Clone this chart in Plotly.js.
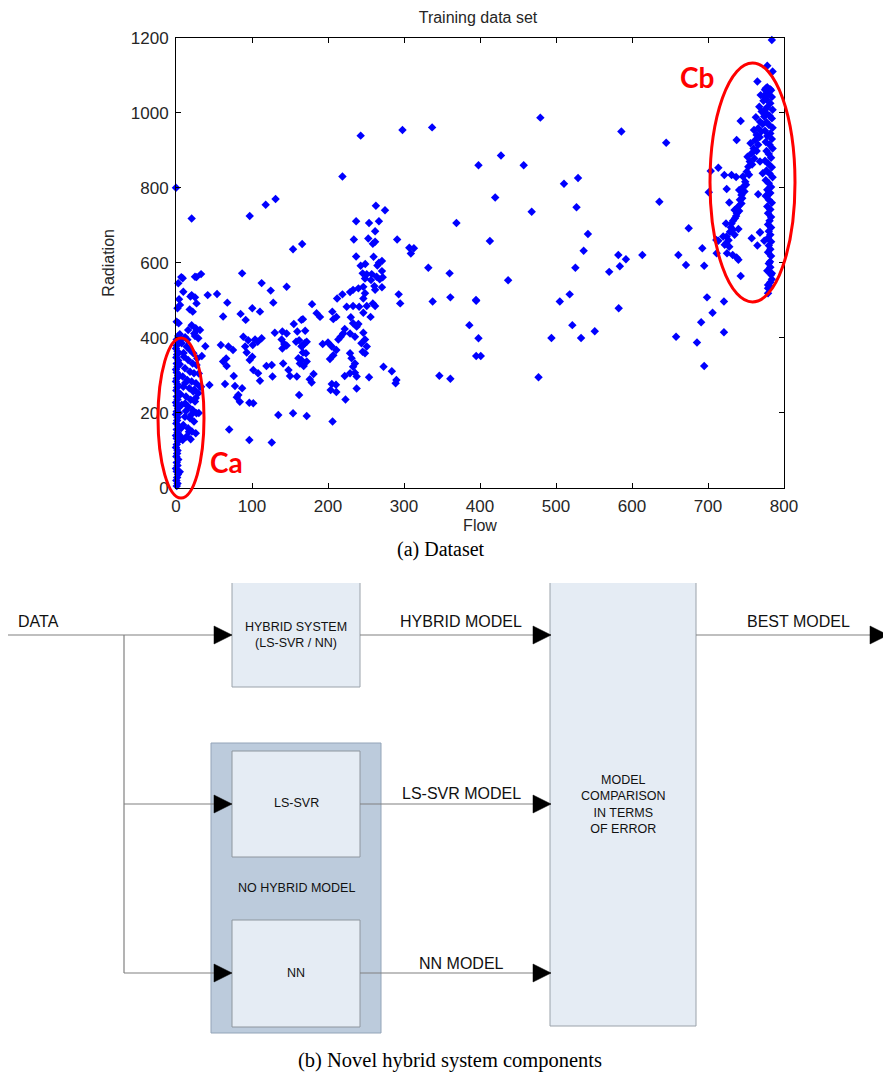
<!DOCTYPE html>
<html><head><meta charset="utf-8">
<script src="https://cdn.plot.ly/plotly-3.0.1.min.js"></script>
<style>html,body{margin:0;padding:0;background:#fff}#chart{width:883px;height:1075px}</style>
</head><body><div id="chart"></div>
<script>
// ---- Data (Flow, Radiation) ----
const flow = [
0,20.6,97,118,131,154,166,219,243,298,337,398,369,332,360,291,307,313,309,263,275,237,254,267,262,234,253,259,262,237,260,267,271,243,249,265,7,27,33,87,
271,245.6,251,257.5,264,248.7,256.6,268,272,261,262,271,240,233,229,219,212,248.7,246.5,259,262,251,241,233,224.6,293,295,337.7,361,179,185,189.5,205.7,211,207,246.5,256,230,233,237.7,240,222,220,216.7,213.6,229,235.5,246.5,248.7,244,251,245.6,248.7,193,200,205,211,207,202.6,229,231,235.5,233,222,229,235.5,237.7,273,284,290,289,254,237.7,223,205,210.5,203.5,211,181,176,178.5,172,206,346.5,361,167,170,167.5,171,165,172,246.5,
3,9.6,4,2,3.5,19,25,18,22,20.6,26,16,24,41.7,54,67.5,62,38.6,34,31.6,44,59,66,62,66.7,64.5,69,75,76,77.6,82,80,84,87,70,85,91.7,88.6,95,91,104,101,107.5,93,100.4,97,101.7,96.5,101.7,96.5,100.4,110.5,112.7,108,110.5,112.7,124.6,128,119,126,127,126,134.6,130,140,145.6,139,142.5,145.6,140,145.6,141,148,150,159,155,154,159.6,162,158,165,170,172,167,161,163,168,162,165,
386,395,398,395,401,479.4,586,645,427.6,457.5,510.5,529,420,468,527,636,413,542,536.4,674.6,582,592,584,613.6,661,671,525.5,570,437,394.7,518,505,582.5,521.5,494,533,551,658,685.5,477,
695,698.7,721,706,691,721,695,743,778,784,779,779,781.6,740,784,778,785,765,692.5,711.4,713.6,703.6,721.5,731,724.6,701,728,737,737.7,743,757.5,765,768.4,711,725,732.5,737.7,
724.5,729,724,728,732.5,731,735.5,738,735,740,742,744,741,746.5,749,746,751,753,755,752,757.5,760,756,762,764,766,760.5,768.4,763,770.6,767.5,773,769.3,775,778,781.6,720,713.6,723.7,
738,745,748,750,754,758,761,764,766,768,770,772,774,776,774,777,730,733,737,741,744,727,722,735,740,768.4,772,766,779.4,768.4,774,
776,783,779,784,777,782,778,785,776,781,784,777,780,785,775,782,778,784,776,781,785,777,780,783,775,779,784,777,781,785,776,780,783,778,782,776,780,784,778,782,779,783,781,779,783,780,782,779,783,780,782,779,783,780,782,783,784,782,779,781.6,
1,2,0.5,1.5,2.5,1,0,2,1,3,0.5,1.5,2,0,1,2.5,1,0,2,1,3,0.5,1.5,2,0,1,2.5,1,0,2,1,3,0.5,1.5,2,0,1,2.5,1,0,2,1,3,0.5,1.5,2,0,1,2.5,1,3,5,
7.5,14,18.4,22.8,10.5,16,21.9,27,11.8,18.4,23.7,8.8,14.9,20.6,26.3,9.6,17.5,22.8,29.4,13.2,19.3,25,7.5,16,21.9,27,11.8,18.4,23.7,9.6,16,21,14,8.8,19.3,
8.8,25,20.6,5.3,27,0.9,27,31.6,25,29.4,
5,12,6,10,5,4,6,4,7,12,15,28,30,24,26,12,13,30,20,17,26,5,33
];
const radiation = [
800,718,725,755,770,636,650,830,939,954,961,860,706,587,572,662,640,639,625,752,740,711,706,711,684,662,665,651,656,617,616,600,605,592,597,593,562,562,570,572,
578,572,569.5,570,563,558,554,556,561.5,538,528,535,532,528,522,516,505,519,505,492,485,485,483,485,483,516,492,497,508,490,466,456,470,456,450,467,456,455,439,430,437,424,412,403,396,412,403,414,396,386,377,363,359,384,388,377,368,354,344,359,346,332,323,298.5,306,307,297,323,311,288,279,295,265,236,277,275,261,256,304,290,281,192,177,299,291,450,419,381,359,341,337,536,
545.6,523,503,479,439,510,508,476,470,434,426,421,412,514,517,494,457,378,352,270,274.5,381,345,337,325,277,377,368,298.5,272,248,242,230,266,156,464,448,403,394,377,396,381,390,361,350,341,314.5,227,226,128,479,470,399,305.6,286,546,526,494,325,328,297,121,194.6,414,417,412,396,384,380,372,536.5,332,314.5,298.5,297,437,199,417,394,390,378,387,390,361,346,332,325,248,448,
434,499,399,352,352,987,950,920,886,860,811,826,774,736,748,763,658,677,632,692,621,609.5,591,621,621,594,587,576,553.6,501,516,497,479,434,400,400,418,403,388,295,
592,508,497,467,441.6,415,325,565,579,572,541,532,603,608,1194,1125,1110,1083,639,625.5,853.6,845,834,834,797,788,761,829,927.5,978,665.5,646,681.5,661,625.5,621,614,
670,683,652,643,688,705,719,732,741,750,768,781,794,803,816,830,843,856,870,883,892,905,919,927,941,959,954,976,988,1003,1016,1032,1047,1061,1068,1063,670,659,705,
745,772,790,808,835,862,878,898,915,935,950,970,990,1010,1042,1052,695,712,725,738,758,660,648,675,690,870,839,783,783,681,659,
1065,1060,1050,1042,1035,1025,1015,1008,1000,992,985,975,968,960,952,945,938,930,922,915,905,898,890,880,872,865,855,846,838,828,820,812,802,795,786,778,768,760,750,742,732,722,712,702,694,684,675,666,656,646,636,628,618,598,588,568,556,548,519,537,
5,12,20,28,36,44,52,60,68,76,84,92,100,108,116,124,132,140,148,156,164,172,180,188,196,204,212,220,228,236,244,252,260,268,276,284,292,300,308,316,324,332,340,348,356,364,372,380,388,396,405,43,
385.6,376.7,368,359,350,341,332,328,319,310,306,297,288,283.6,279,270,266,257,252.8,243.9,235,230.6,221.7,217,208,199,190,186,177,168,159.4,150.5,137,128,130,
559,563,514,488,492,443,421,421,405,399,
410,402,395,360,330,300,250,200,160,225,395,345,305,262,240,280,205,200,195,150,146,140,270
];
const xTicks = [0,100,200,300,400,500,600,700,800];
const yTicks = [0,200,400,600,800,1000,1200];

// ---- page geometry helpers (pixel -> paper) ----
const W = 883, H = 1075;
const PX = v => v / W, PY = v => 1 - v / H;
const GRAY = '#808080';
const SANS = 'Liberation Sans, Arial, sans-serif';
const SERIF = 'Liberation Serif, Times New Roman, serif';

const shapes = [];
const ann = [];
function rect(x0, y0, x1, y1, fill, lc) {
  shapes.push({type:'rect', xref:'paper', yref:'paper', x0:PX(x0), x1:PX(x1), y0:PY(y1), y1:PY(y0),
    fillcolor:fill, line:{color:lc, width:1}, layer:'above'});
}
function openTopBox(x0, y0, x1, y1, fill, lc) {
  shapes.push({type:'rect', xref:'paper', yref:'paper', x0:PX(x0), x1:PX(x1), y0:PY(y1), y1:PY(y0),
    fillcolor:fill, line:{width:0}, layer:'above'});
  shapes.push({type:'path', xref:'paper', yref:'paper', layer:'above',
    path:`M ${PX(x0)} ${PY(y0)} L ${PX(x0)} ${PY(y1)} L ${PX(x1)} ${PY(y1)} L ${PX(x1)} ${PY(y0)}`,
    line:{color:lc, width:1}});
}
function seg(x0, y0, x1, y1) {
  shapes.push({type:'line', xref:'paper', yref:'paper', x0:PX(x0), x1:PX(x1), y0:PY(y0), y1:PY(y1),
    line:{color:GRAY, width:1.2}, layer:'above'});
}
function arrow(tip, y) {
  shapes.push({type:'path', xref:'paper', yref:'paper', layer:'above',
    path:`M ${PX(tip-18)} ${PY(y-9)} L ${PX(tip)} ${PY(y)} L ${PX(tip-18)} ${PY(y+9)} Z`,
    fillcolor:'#000', line:{color:'#000', width:0.5}});
}
function txt(x, y, t, size, opts) {
  ann.push(Object.assign({xref:'paper', yref:'paper', x:PX(x), y:PY(y), text:t, showarrow:false,
    xanchor:'center', yanchor:'middle', font:{family:SANS, size:size, color:'#111'}}, opts||{}));
}

// ellipses around clusters
shapes.push({type:'circle', xref:'paper', yref:'paper', x0:PX(158), x1:PX(204), y0:PY(498), y1:PY(338),
  line:{color:'#ff0000', width:3}, layer:'above'});
shapes.push({type:'circle', xref:'paper', yref:'paper', x0:PX(710), x1:PX(795), y0:PY(302), y1:PY(63),
  line:{color:'#ff0000', width:3}, layer:'above'});
txt(226, 462, '<b>Ca</b>', 28, {font:{family:'Lato, sans-serif', size:28, color:'#ff0000'}});
txt(697, 77, '<b>Cb</b>', 28, {font:{family:'Lato, sans-serif', size:28, color:'#ff0000'}});

// ---- block diagram ----
rect(211, 743, 381, 1033, '#bccbdc', '#93a4b8');
openTopBox(232, 583, 360, 687, '#e5ecf4', '#9aa2aa');
openTopBox(550, 583, 696, 1026, '#e5ecf4', '#9aa2aa');
rect(232, 751, 360, 857, '#e5ecf4', '#8e969e');
rect(232, 920, 360, 1027, '#e5ecf4', '#8e969e');

seg(8, 635, 232, 635);
seg(124, 635, 124, 973);
seg(124, 804, 232, 804);
seg(124, 973, 232, 973);
seg(360, 635, 551, 635);
seg(360, 804, 551, 804);
seg(360, 973, 551, 973);
seg(696, 635, 883, 635);
arrow(232, 635); arrow(232, 804); arrow(232, 973);
arrow(551, 635); arrow(551, 804); arrow(551, 973);
arrow(888, 635);

txt(38, 621, 'DATA', 16);
txt(461, 621, 'HYBRID MODEL', 16);
txt(798, 621, 'BEST MODEL', 16);
txt(461, 793, 'LS-SVR MODEL', 16);
txt(461, 963, 'NN MODEL', 16);
txt(296, 635, 'HYBRID SYSTEM<br>(LS-SVR / NN)', 12.5);
txt(296, 803, 'LS-SVR', 12.5);
txt(296, 888, 'NO HYBRID MODEL', 12.5);
txt(296, 973, 'NN', 12.5);
txt(623, 804, 'MODEL<br>COMPARISON<br>IN TERMS<br>OF ERROR', 12.5);

// captions
txt(441, 549, '(a) Dataset', 20, {font:{family:SERIF, size:20, color:'#000'}});
txt(450, 1060, '(b) Novel hybrid system components', 20.5, {font:{family:SERIF, size:20.5, color:'#000'}});

const axFont = {family:SANS, size:17, color:'#262626'};
const layout = {
  width: W, height: H,
  margin: {l:0, r:0, t:0, b:0},
  paper_bgcolor: '#fff', plot_bgcolor: '#fff',
  showlegend: false,
  title: {text:'Training data set', x:PX(478), y:PY(17), xref:'paper', yref:'paper',
    xanchor:'center', yanchor:'middle', font:{family:SANS, size:16, color:'#262626'}},
  xaxis: {domain:[PX(176), PX(784)], range:[0,800], tickvals:xTicks, ticktext:xTicks.map(String),
    ticks:'inside', ticklen:5, tickcolor:'#000', showline:true, linecolor:'#000', linewidth:1,
    mirror:'ticks', showgrid:false, zeroline:false, tickfont:axFont, ticklabelstandoff:3,
    automargin:false, fixedrange:true,
    title:{text:'Flow', font:{family:SANS, size:16, color:'#262626'}, standoff:4}},
  yaxis: {domain:[PY(488), PY(37.7)], range:[0,1200], tickvals:yTicks, ticktext:yTicks.map(String),
    ticks:'inside', ticklen:5, tickcolor:'#000', showline:true, linecolor:'#000', linewidth:1,
    mirror:'ticks', showgrid:false, zeroline:false, tickfont:axFont, ticklabelstandoff:3,
    automargin:false, fixedrange:true,
    title:{text:'Radiation', font:{family:SANS, size:16, color:'#262626'}, standoff:12}},
  shapes: shapes,
  annotations: ann
};

const trace = {
  type:'scatter', mode:'markers', x:flow, y:radiation, cliponaxis:false,
  marker:{symbol:'diamond', size:6.5, color:'#0000ff', line:{width:0}},
  hoverinfo:'x+y'
};

Plotly.newPlot('chart', [trace], layout, {displayModeBar:false, staticPlot:true});
</script>
</body></html>
